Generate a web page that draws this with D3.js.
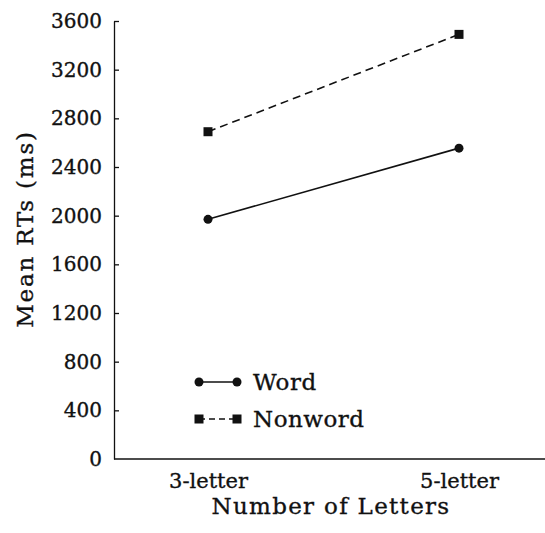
<!DOCTYPE html>
<html>
<head>
<meta charset="utf-8">
<script src="https://cdn.jsdelivr.net/npm/d3@7"></script>
<style>
  body { margin: 0; background: #fff; }
  svg text { font-family: "DejaVu Serif", serif; fill: #111; stroke: #111; stroke-width: 0.35px; }
</style>
</head>
<body>
<div id="chart"></div>
<script>
// data
var conditions = ["3-letter", "5-letter"];
var wordRT = [1970, 2555];
var nonwordRT = [2690, 3490];
var yTicks = [0, 400, 800, 1200, 1600, 2000, 2400, 2800, 3200, 3600];
var seriesNames = ["Word", "Nonword"];

var margin = { top: 21, right: 0, bottom: 74, left: 114 },
  width = 545 - margin.left - margin.right,
  height = 533 - margin.top - margin.bottom;

var svg = d3.select("#chart").append("svg")
  .attr("width", 545)
  .attr("height", 533);

var g = svg.append("g")
  .attr("transform", "translate(" + margin.left + "," + margin.top + ")");

// scales
var x = d3.scalePoint()
  .domain(conditions)
  .range([94, 345]);

var y = d3.scaleLinear()
  .domain([0, 3600])
  .range([height, 0]);

// y axis, ticks pointing inward
var yAxis = g.append("g")
  .attr("class", "yAxis")
  .call(d3.axisLeft(y)
    .tickValues(yTicks)
    .tickFormat(d3.format("d"))
    .tickSizeInner(-5)
    .tickSizeOuter(0)
    .tickPadding(12));
yAxis.select(".domain").attr("stroke", "#111").attr("stroke-width", 1.3);
yAxis.selectAll(".tick line").attr("stroke", "#111").attr("stroke-width", 1.3);
yAxis.selectAll(".tick").filter(function (d) { return d === 0; }).select("line").remove();
yAxis.selectAll("text").style("font-size", "20px").attr("fill", "#111");

// x axis
var xAxis = g.append("g")
  .attr("class", "xAxis")
  .attr("transform", "translate(0," + height + ")")
  .call(d3.axisBottom(x).tickSize(0).tickPadding(14));
xAxis.select(".domain").remove();
xAxis.selectAll("text").style("font-size", "21px").attr("fill", "#111");

g.append("line")
  .attr("x1", 0)
  .attr("x2", width)
  .attr("y1", height)
  .attr("y2", height)
  .attr("stroke", "#111")
  .attr("stroke-width", 1.3);

// lines
var line = d3.line()
  .x(function (d, i) { return x(conditions[i]); })
  .y(function (d) { return y(d); });

g.append("path")
  .datum(wordRT)
  .attr("d", line)
  .attr("fill", "none")
  .attr("stroke", "#111")
  .attr("stroke-width", 1.6);

g.append("path")
  .datum(nonwordRT)
  .attr("d", line)
  .attr("fill", "none")
  .attr("stroke", "#111")
  .attr("stroke-width", 1.6)
  .attr("stroke-dasharray", "8,5");

g.selectAll(".wordDot")
  .data(wordRT)
  .enter().append("circle")
  .attr("class", "wordDot")
  .attr("r", 4.5)
  .attr("cx", function (d, i) { return x(conditions[i]); })
  .attr("cy", function (d) { return y(d); })
  .attr("fill", "#111");

g.selectAll(".nonwordDot")
  .data(nonwordRT)
  .enter().append("rect")
  .attr("class", "nonwordDot")
  .attr("width", 9)
  .attr("height", 9)
  .attr("x", function (d, i) { return x(conditions[i]) - 4.5; })
  .attr("y", function (d) { return y(d) - 4.5; })
  .attr("fill", "#111");

// legend
var legend = svg.append("g")
  .attr("transform", "translate(199,382)");

var rowGap = 37;
seriesNames.forEach(function (name, i) {
  var row = legend.append("g").attr("transform", "translate(0," + (i * rowGap) + ")");
  row.append("line")
    .attr("x1", 0).attr("x2", 38)
    .attr("y1", 0).attr("y2", 0)
    .attr("stroke", "#111")
    .attr("stroke-width", 1.3)
    .attr("stroke-dasharray", i === 1 ? "6,4" : null);
  [0, 38].forEach(function (px) {
    if (i === 0) {
      row.append("circle").attr("cx", px).attr("cy", 0).attr("r", 4.5).attr("fill", "#111");
    } else {
      row.append("rect").attr("x", px - 4.5).attr("y", -4.5).attr("width", 9).attr("height", 9).attr("fill", "#111");
    }
  });
  row.append("text")
    .attr("x", 54)
    .attr("dy", "0.35em")
    .style("font-size", "23px")
    .style("letter-spacing", "0.5px")
    .text(name);
});

// axis titles
svg.append("text")
  .attr("transform", "rotate(-90)")
  .attr("x", -229)
  .attr("y", 33)
  .style("text-anchor", "middle")
  .style("font-size", "23px")
  .style("letter-spacing", "1.8px")
  .text("Mean RTs (ms)");

svg.append("text")
  .attr("x", 331)
  .attr("y", 514)
  .style("text-anchor", "middle")
  .style("font-size", "23px")
  .style("letter-spacing", "1.3px")
  .text("Number of Letters");
</script>
</body>
</html>
